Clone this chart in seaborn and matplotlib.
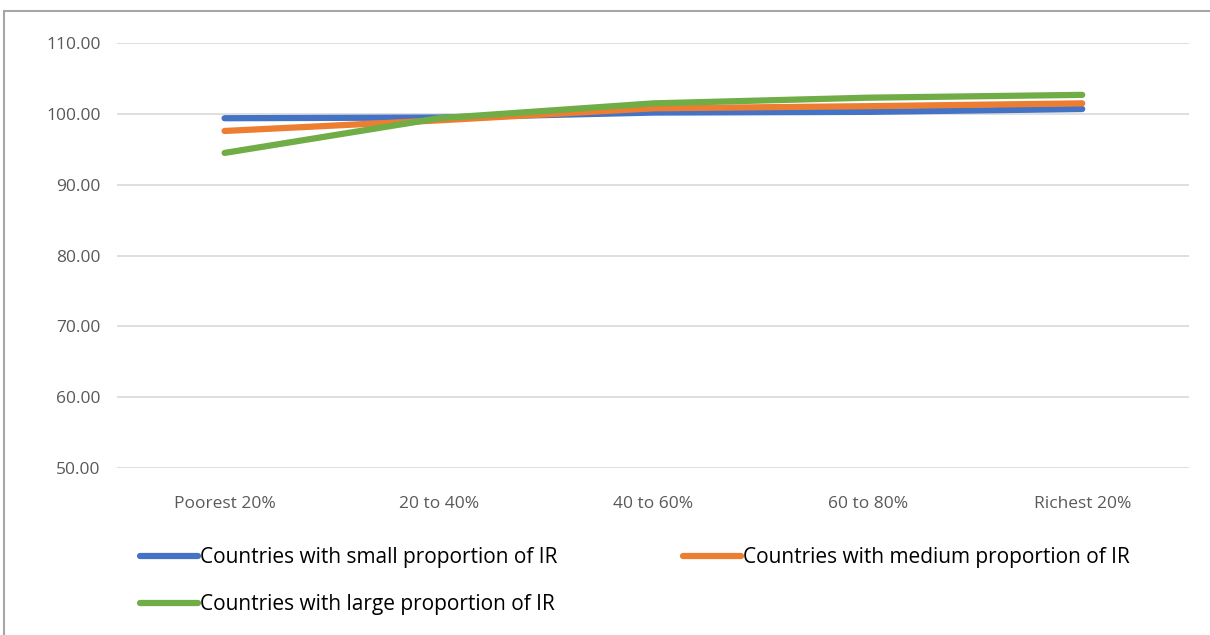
#!/usr/bin/env python3

import pandas as pd
import seaborn as sns
import matplotlib.pyplot as plt
from matplotlib.lines import Line2D
from matplotlib.ticker import FormatStrFormatter

quintiles = ['Poorest 20%', '20 to 40%', '40 to 60%', '60 to 80%', 'Richest 20%']
small_ir = [99.4, 99.5, 100.2, 100.3, 100.7]
medium_ir = [97.6, 99.1, 100.8, 101.1, 101.5]
large_ir = [94.5, 99.4, 101.5, 102.3, 102.7]
series_names = [
    'Countries with small proportion of IR',
    'Countries with medium proportion of IR',
    'Countries with large proportion of IR',
]
colors = ['#4472c4', '#ed7d31', '#70ad47']


def make_plot():
    rows = []
    for name, vals in zip(series_names, [small_ir, medium_ir, large_ir]):
        for i, v in enumerate(vals):
            rows.append({'x': i, 'quintile': quintiles[i], 'value': v, 'group': name})
    df = pd.DataFrame(rows)

    sns.set_style('white')
    plt.rcParams['font.family'] = ['Open Sans', 'DejaVu Sans']

    fig = plt.figure(figsize=(12.1, 6.35), dpi=100)
    ax = fig.add_axes([0.097, 0.263, 0.886, 0.669])

    sns.lineplot(data=df, x='x', y='value', hue='group', palette=colors,
                 linewidth=4.5, ax=ax, legend=False, solid_capstyle='round')

    ax.set_xlim(-0.5, 4.5)
    ax.set_ylim(50, 110)
    ax.set_yticks(range(50, 111, 10))
    ax.yaxis.set_major_formatter(FormatStrFormatter('%.2f'))
    ax.set_xticks(range(len(quintiles)))
    ax.set_xticklabels(quintiles)
    ax.grid(axis='y', color='#d9d9d9', linewidth=1.2)
    ax.set_axisbelow(True)
    ax.set_xlabel('')
    ax.set_ylabel('')
    sns.despine(ax=ax, left=True, bottom=True)
    ax.tick_params(axis='both', length=0, labelsize=12.5, labelcolor='#595959')
    ax.tick_params(axis='x', pad=20)
    ax.tick_params(axis='y', pad=12)

    # legend fills row-wise in the reference: small, medium / large
    handles = [Line2D([], [], color=c, linewidth=4.5, solid_capstyle='round') for c in colors]
    order = [0, 2, 1]
    leg = fig.legend([handles[i] for i in order], [series_names[i] for i in order],
                     ncol=2, loc='upper left',
                     bbox_to_anchor=(0.1, 0.168), frameon=False,
                     fontsize=15, handlelength=2.8, handletextpad=0.1,
                     columnspacing=6.0, labelspacing=1.25)
    for t in leg.get_texts():
        t.set_color('black')

    # chart frame (partially visible)
    fig.add_artist(Line2D([4 / 1210, 1.0], [1 - 11 / 635, 1 - 11 / 635],
                          color='#a6a6a6', linewidth=1.5))
    fig.add_artist(Line2D([4 / 1210, 4 / 1210], [0, 1 - 11 / 635],
                          color='#a6a6a6', linewidth=1.5))

    fig.savefig('out.png', dpi=100)


if __name__ == '__main__':
    make_plot()
